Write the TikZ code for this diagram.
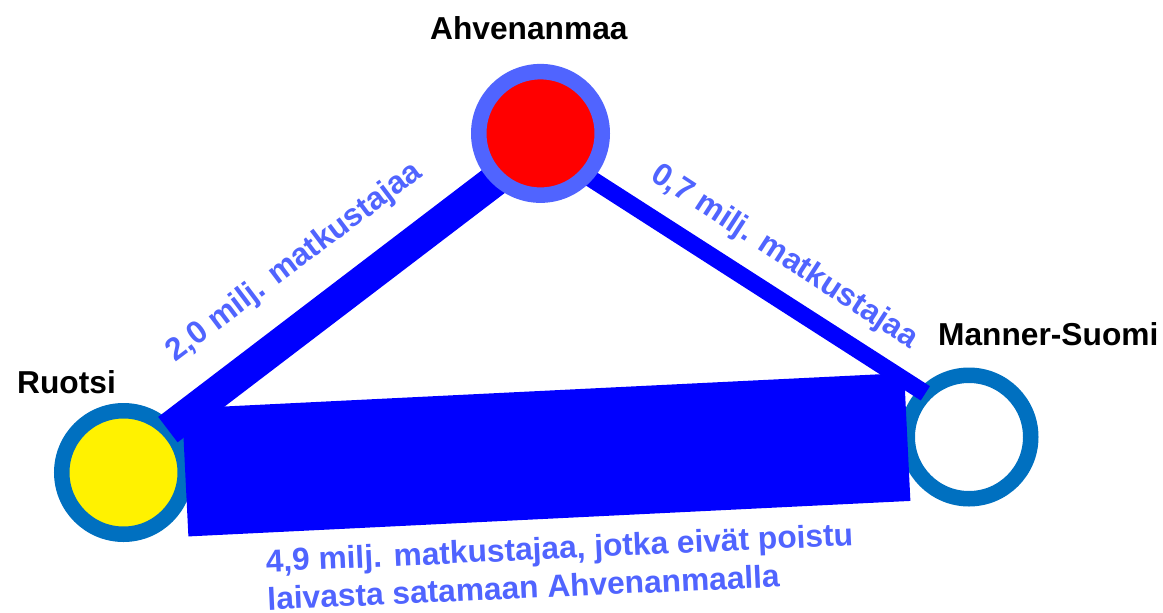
\documentclass[tikz,border=0pt]{standalone}
\usepackage{fontspec}
\setmainfont{Liberation Sans}

\definecolor{ringblue}{RGB}{0,112,192}
\definecolor{labelblue}{RGB}{80,100,255}
\definecolor{flowblue}{RGB}{0,0,255}

\begin{document}
\begin{tikzpicture}[x=1pt, y=-1pt,
    place/.style={circle, minimum size=123.5pt, inner sep=0pt, outer sep=0pt, line width=15.5pt},
    placename/.style={font=\fontsize{31.7}{38}\selectfont\bfseries, inner sep=0pt, anchor=base west},
    flowlabel/.style={placename, text=labelblue}]

    \useasboundingbox (0,0) rectangle (1163,613);

    % Harbours
    \node[place, draw=ringblue, fill=yellow] (ruotsi) at (123.5,472.5) {};
    \node[place, draw=ringblue, fill=white] (manner) at (969,437) {};
    \coordinate (ahv-c) at (540.5,133.4);
    \coordinate (ahv-in) at (540,146);

    % Passenger flows
    \draw[flowblue, line width=32pt] (ruotsi.44) -- (ahv-in);
    \draw[flowblue, line width=17pt] (manner.135.5) -- (ahv-in);
    \draw[flowblue, line width=128pt] (ruotsi.east) -- (manner.west);

    \node[place, draw=labelblue, fill=red] (ahv) at (ahv-c) {};

    % Names
    \node[placename] (ahv-name) at (430,39) {Ahvenanmaa};
    \node[placename] (ruotsi-name) at (17,393) {Ruotsi};
    \node[placename] (manner-name) at (938,345) {Manner-Suomi};

    % Flow labels
    \node[flowlabel, rotate=37] (ra-label) at (175,363) {2,0 milj. matkustajaa};
    \node[flowlabel, rotate=-33] (am-label) at (649,179) {0,7 milj. matkustajaa};
    \node[flowlabel, anchor=north west, align=left, rotate=2.6] (rm-label) at (265,549)
        {4,9 milj. matkustajaa, jotka eivät poistu\\laivasta satamaan Ahvenanmaalla};
\end{tikzpicture}
\end{document}
